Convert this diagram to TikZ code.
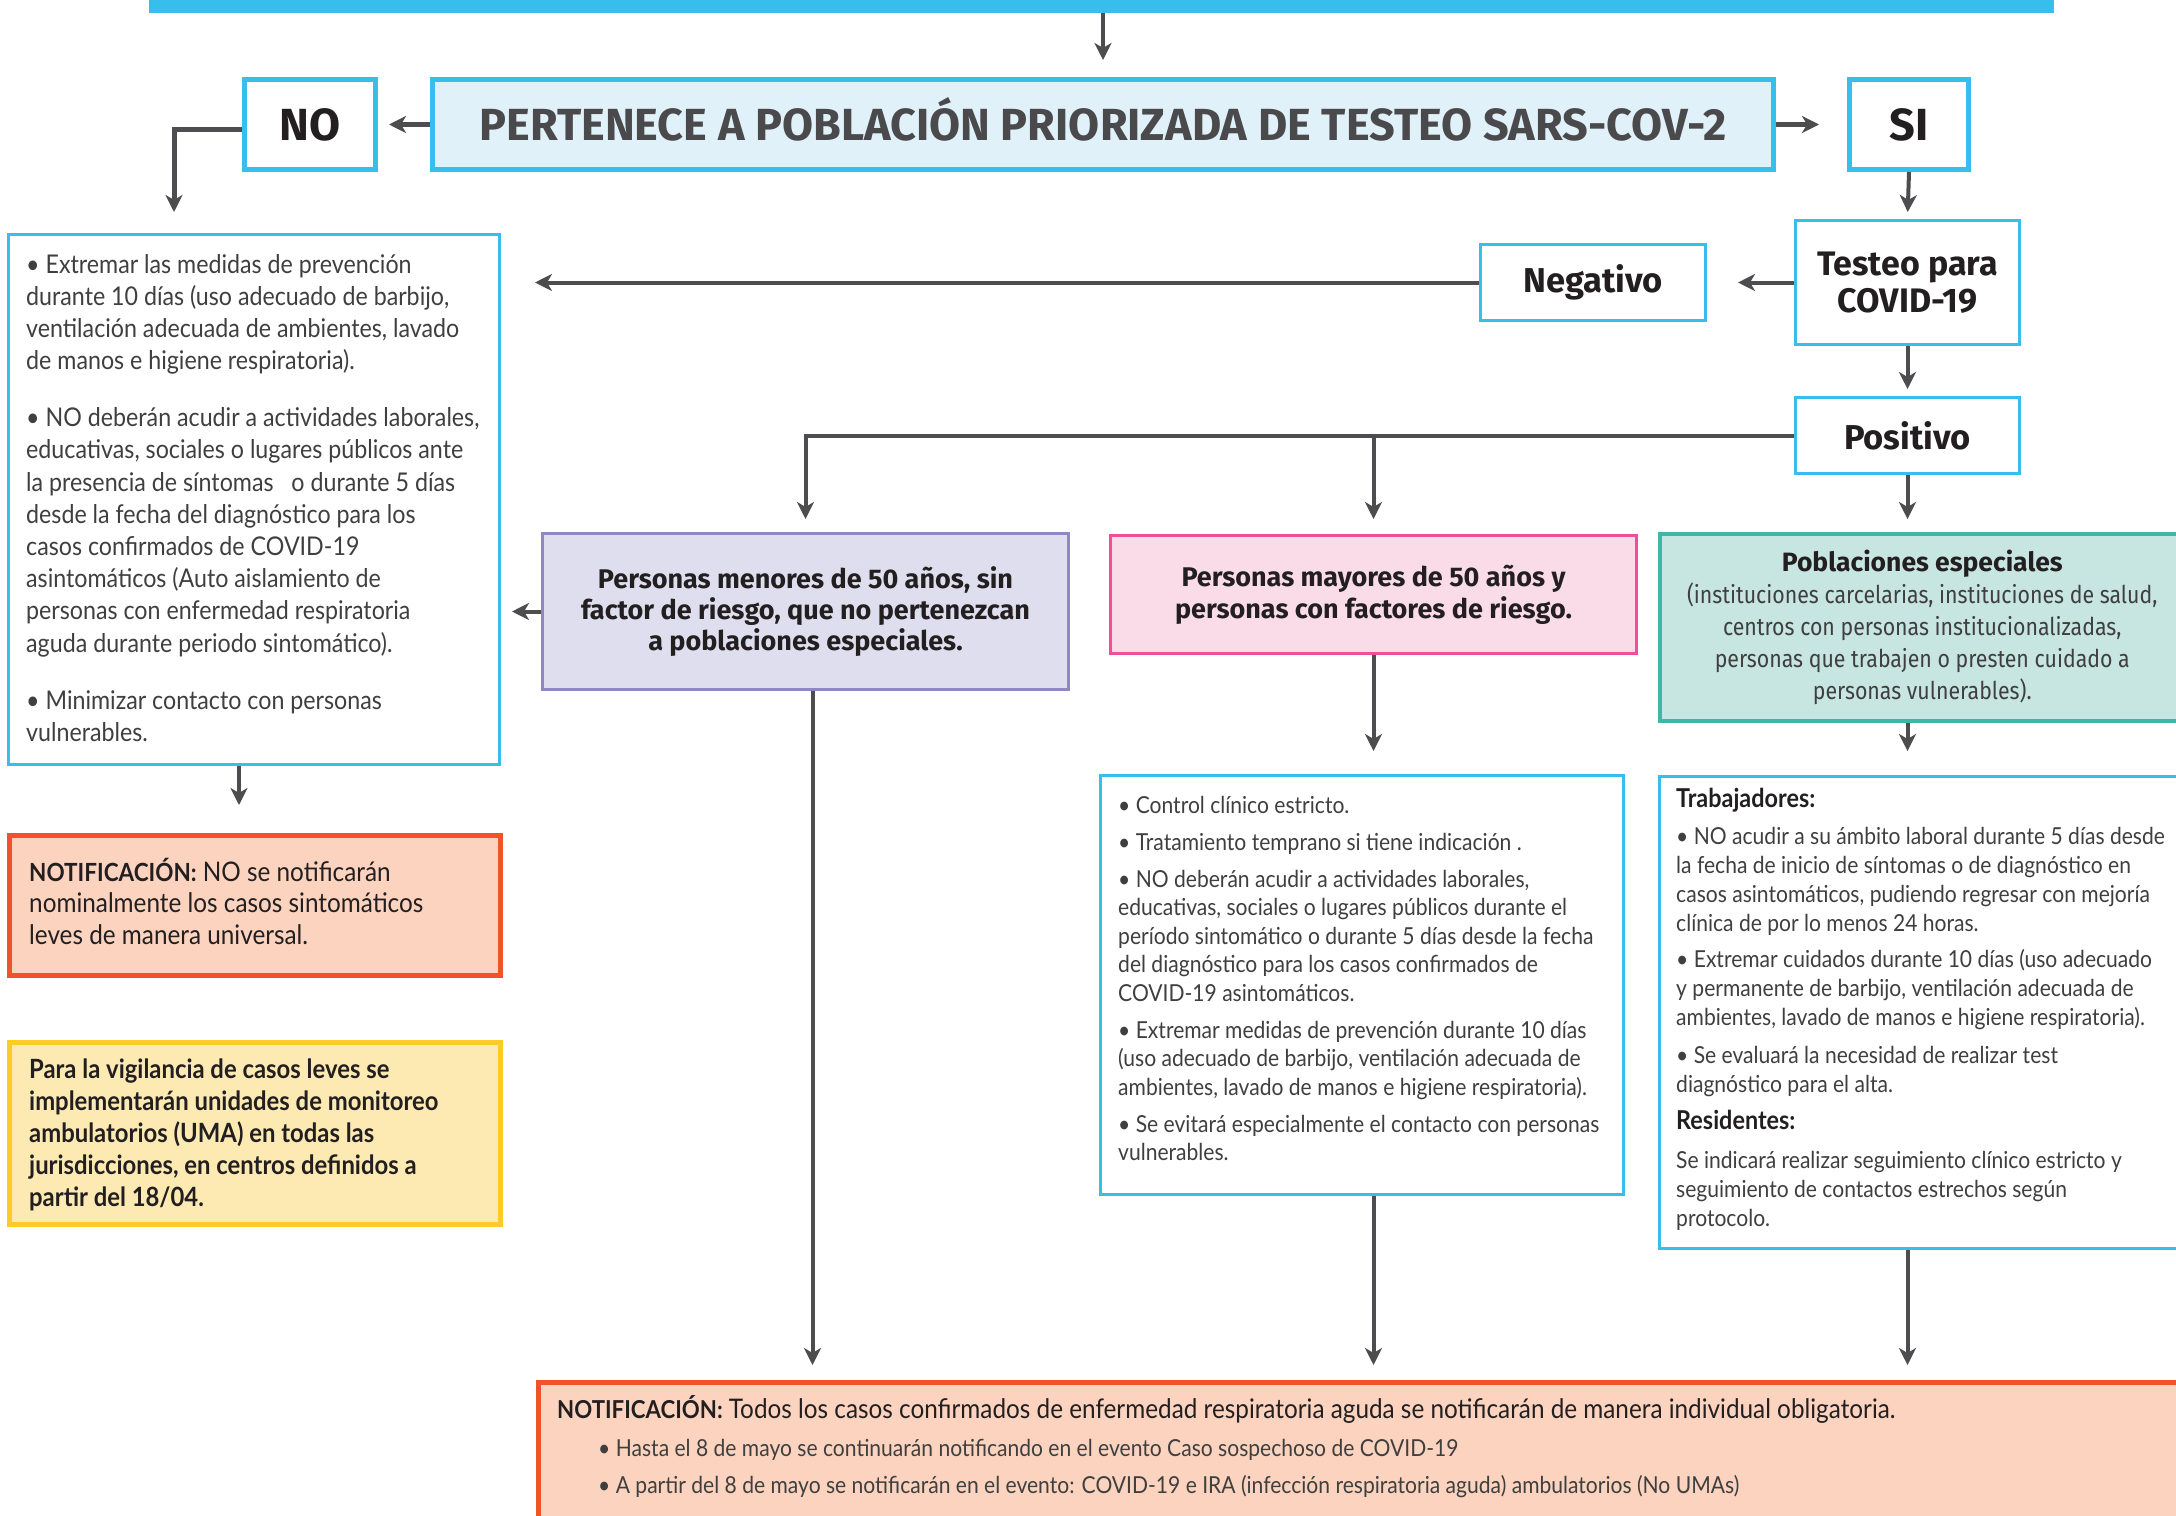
\documentclass[tikz,border=0pt]{standalone}
\usepackage{fontspec}
\setmainfont{Lato}[FakeStretch=0.9]
\newfontfamily\hdfont{Fira Sans}
\newfontfamily\hdlt{Fira Sans}[FakeStretch=0.87]
\usetikzlibrary{arrows.meta}
\definecolor{cy}{HTML}{38BEEC}
\definecolor{lb}{HTML}{E1F1FA}
\definecolor{ar}{HTML}{4D4D4F}
\definecolor{hg}{HTML}{4A4A4C}
\definecolor{tk}{HTML}{231F20}
\definecolor{bt}{HTML}{3F3F3F}
\definecolor{pub}{HTML}{8F88C4}
\definecolor{puf}{HTML}{DFDEEE}
\definecolor{pkb}{HTML}{EE4F9B}
\definecolor{pkf}{HTML}{FADCE8}
\definecolor{tlb}{HTML}{3DB8A7}
\definecolor{tlf}{HTML}{C7E5E1}
\definecolor{orb}{HTML}{F0522A}
\definecolor{orf}{HTML}{FBD3BE}
\definecolor{ylb}{HTML}{FCCB25}
\definecolor{ylf}{HTML}{FDEAB3}
\newcommand\mytxt[2]{\parbox[t]{#1}{\raggedright\leavevmode #2}}
\begin{document}
\begin{tikzpicture}[x=1pt,y=-1pt,
  bx/.style={rectangle, draw, inner sep=0pt, anchor=north west},
  arr/.style={draw=ar, line width=4pt, -{Stealth[length=17pt,width=17pt,inset=5pt]}},
  hdb/.style={font=\hdfont\bfseries\fontsize{#1}{#1}\selectfont, text=tk},
  capc/.style={text height=31pt, text depth=0pt},
  tx/.style={anchor=base west, inner sep=0pt, text=bt}]
\fill[white] (0,0) rectangle (2176,1515);
\useasboundingbox (0,0) rectangle (2176,1515);

% boxes
\node[bx, fill=cy, draw=none, minimum width=1905pt, minimum height=20pt] (bar) at (149,-7) {};
\node[bx, draw=cy, line width=5pt, fill=lb, minimum width=1341pt, minimum height=90pt, hdb=45, capc, text=hg] (pert) at (430,77) {PERTENECE A POBLACIÓN PRIORIZADA DE TESTEO SARS-COV-2};
\node[bx, draw=cy, line width=5pt, fill=white, minimum width=131pt, minimum height=90pt, hdb=45, capc] (no) at (242,77) {NO};
\node[bx, draw=cy, line width=5pt, fill=white, minimum width=119pt, minimum height=90pt, hdb=45, capc] (si) at (1847,77) {SI};
\node[bx, draw=cy, line width=3pt, fill=white, minimum width=224pt, minimum height=124pt, align=center, font=\hdfont\bfseries\fontsize{34}{37}\selectfont, text=tk] (testeo) at (1794,219) {Testeo para\\COVID-19};
\node[bx, draw=cy, line width=3pt, fill=white, minimum width=225pt, minimum height=76pt, hdb=34.5] (neg) at (1479,243) {Negativo};
\node[bx, draw=cy, line width=3pt, fill=white, minimum width=224pt, minimum height=76pt, hdb=34.5] (pos) at (1794,396) {Positivo};
\node[bx, draw=cy, line width=3pt, fill=white, minimum width=491pt, minimum height=530pt] (lbox) at (7,233) {};
\node[bx, draw=pub, line width=3pt, fill=puf, minimum width=526pt, minimum height=156pt, align=center, font=\hdfont\bfseries\fontsize{27}{31}\selectfont, text=tk] (purple) at (541,532) {Personas menores de 50 años, sin\\factor de riesgo, que no pertenezcan\\a poblaciones especiales.};
\node[bx, draw=pkb, line width=3pt, fill=pkf, minimum width=526pt, minimum height=118pt, align=center, font=\hdfont\bfseries\fontsize{27}{32}\selectfont, text=tk] (pink) at (1109,534) {Personas mayores de 50 años y\\personas con factores de riesgo.};
\node[bx, draw=tlb, line width=3.5pt, fill=tlf, minimum width=525pt, minimum height=187pt, align=center, font=\hdlt\fontsize{24.5}{32}\selectfont, text=bt] (teal) at (1658,532) {{\hdfont\bfseries\fontsize{26.5}{32}\selectfont\color{tk} Poblaciones especiales}\\(instituciones carcelarias, instituciones de salud,\\centros con personas institucionalizadas,\\personas que trabajen o presten cuidado a\\personas vulnerables).};
\node[bx, draw=cy, line width=3pt, fill=white, minimum width=523pt, minimum height=419pt] (mid) at (1099,774) {};
\node[bx, draw=cy, line width=3pt, fill=white, minimum width=525pt, minimum height=472pt] (right) at (1658,775) {};
\node[bx, draw=orb, line width=4.5pt, fill=orf, minimum width=491pt, minimum height=140pt] (orange) at (7,833) {};
\node[bx, draw=ylb, line width=4.5pt, fill=ylf, minimum width=491pt, minimum height=182pt] (yellow) at (7,1040) {};
\node[bx, draw=orb, line width=4.5pt, fill=orf, minimum width=1660pt, minimum height=160pt] (bottom) at (536,1380) {};

% connectors
\draw[arr, shorten >=17pt] (bar.south -| pert.north) -- (pert.north);
\draw[arr, line width=5pt, shorten >=11pt] (pert.west) -- (no.east);
\draw[arr, line width=5pt, shorten >=28pt] (pert.east) -- (si.west);
\coordinate (noend) at (174,212);
\draw[arr, line width=5pt] ([yshift=-5pt]no.west) -| (noend);
\draw[arr, shorten >=7pt] (si.south) -- (testeo.north);
\draw[arr, shorten >=31pt] (testeo.west) -- (neg.east);
\draw[arr, shorten >=34pt] (neg.west) -- (neg.west -| lbox.east);
\draw[arr, shorten >=7pt] (testeo.south) -- (pos.north);
\draw[arr, shorten >=13pt] (pos.west) -| (purple.north);
\draw[arr, shorten >=15pt] (pos.west -| pink.north) -- (pink.north);
\draw[arr, shorten >=13pt] (pos.south) -- (pos.south |- teal.north);
\draw[arr, shorten >=11pt] (purple.west) -- (purple.west -| lbox.east);
\draw[arr, shorten >=23pt] (pink.south) -- (pink.south |- mid.north);
\draw[arr, shorten >=24pt] (pos.south |- teal.south) -- (pos.south |- right.north);
\draw[arr, shorten >=15pt] ([xshift=7pt]purple.south) -- ([xshift=7pt]purple.south |- bottom.north);
\draw[arr, shorten >=15pt] (pink.south |- mid.south) -- (pink.south |- bottom.north);
\draw[arr, shorten >=15pt] (pos.south |- right.south) -- (pos.south |- bottom.north);
\draw[arr, shorten >=28pt] ([xshift=-15pt]lbox.south) -- ([xshift=-15pt]lbox.south |- orange.north);

% texts
\node[tx, font=\fontsize{25.8}{32.2}\selectfont] (ltxt) at (26,273) {\mytxt{470pt}{%
• Extremar las medidas de prevención\\
durante 10 días (uso adecuado de barbijo,\\
ventilación adecuada de ambientes, lavado\\
de manos e higiene respiratoria).\\[24.8pt]
• NO deberán acudir a actividades laborales,\\
educativas, sociales o lugares públicos ante\\
la presencia de síntomas\ \ \ o durante 5 días\\
desde la fecha del diagnóstico para los\\
casos confirmados de COVID-19\\
asintomáticos (Auto aislamiento de\\
personas con enfermedad respiratoria\\
aguda durante periodo sintomático).\\[24.8pt]
• Minimizar contacto con personas\\
vulnerables.}};

\node[tx, font=\fontsize{23.4}{28.5}\selectfont] (mtxt) at (1118,813) {\mytxt{520pt}{%
• Control clínico estricto.\\[8.5pt]
• Tratamiento temprano si tiene indicación .\\[8.5pt]
• NO deberán acudir a actividades laborales,\\
educativas, sociales o lugares públicos durante el\\
período sintomático o durante 5 días desde la fecha\\
del diagnóstico para los casos confirmados de\\
COVID-19 asintomáticos.\\[8.5pt]
• Extremar medidas de prevención durante 10 días\\
(uso adecuado de barbijo, ventilación adecuada de\\
ambientes, lavado de manos e higiene respiratoria).\\[8.5pt]
• Se evitará especialmente el contacto con personas\\
vulnerables.}};

\node[tx, font=\fontsize{23.4}{29}\selectfont] (rtxt) at (1676,807) {\mytxt{520pt}{%
{\bfseries\fontsize{26}{29}\selectfont\color{tk}Trabajadores:}\\[8pt]
• NO acudir a su ámbito laboral durante 5 días desde\\
la fecha de inicio de síntomas o de diagnóstico en\\
casos asintomáticos, pudiendo regresar con mejoría\\
clínica de por lo menos 24 horas.\\[7pt]
• Extremar cuidados durante 10 días (uso adecuado\\
y permanente de barbijo, ventilación adecuada de\\
ambientes, lavado de manos e higiene respiratoria).\\[9pt]
• Se evaluará la necesidad de realizar test\\
diagnóstico para el alta.\\[8pt]
{\bfseries\fontsize{26}{29}\selectfont\color{tk}Residentes:}\\[10pt]
Se indicará realizar seguimiento clínico estricto y\\
seguimiento de contactos estrechos según\\
protocolo.}};

\node[tx, text=tk, font=\fontsize{27}{31.5}\selectfont] (otxt) at (29,881) {\mytxt{470pt}{%
{\bfseries\fontsize{25}{31.5}\selectfont NOTIFICACIÓN:} NO se notificarán\\
nominalmente los casos sintomáticos\\
leves de manera universal.}};

\node[tx, text=tk, font=\bfseries\fontsize{26.5}{32}\selectfont] (ytxt) at (29,1078) {\mytxt{470pt}{%
Para la vigilancia de casos leves se\\
implementarán unidades de monitoreo\\
ambulatorios (UMA) en todas las\\
jurisdicciones, en centros definidos a\\
partir del 18/04.}};

\node[tx, text=tk, font=\fontsize{27}{30}\selectfont] (btxt) at (557,1418) {{\bfseries\fontsize{24.7}{30}\selectfont NOTIFICACIÓN:} Todos los casos confirmados de enfermedad respiratoria aguda se notificarán de manera individual obligatoria.};
\node[tx, font=\fontsize{23.4}{37}\selectfont] (btxt2) at (598,1456) {\mytxt{1500pt}{%
• Hasta el 8 de mayo se continuarán notificando en el evento Caso sospechoso de COVID-19\\
• A partir del 8 de mayo se notificarán en el evento: COVID-19 e IRA (infección respiratoria aguda) ambulatorios (No UMAs)}};
\end{tikzpicture}
\end{document}
